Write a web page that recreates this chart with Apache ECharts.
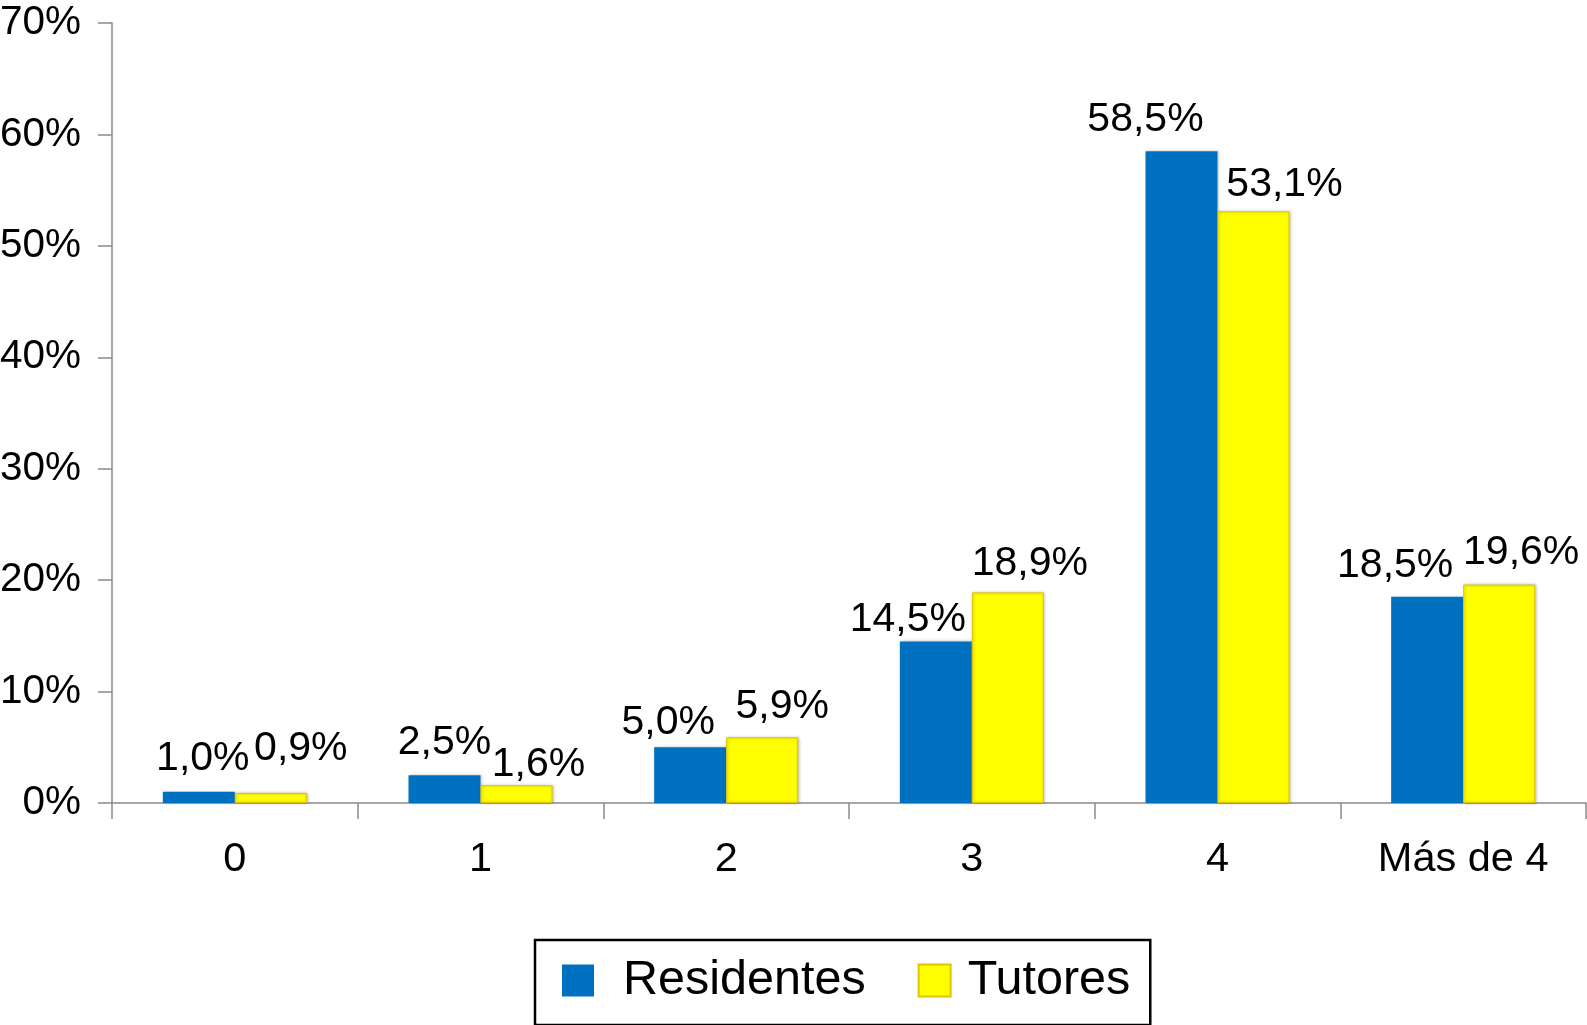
<!DOCTYPE html>
<html>
<head>
<meta charset="utf-8">
<script src="https://cdn.jsdelivr.net/npm/echarts@6/dist/echarts.min.js"></script>
<style>
html,body{margin:0;padding:0;background:#fff;}
#chart{width:1587px;height:1025px;}
</style>
</head>
<body>
<div id="chart"></div>
<script>
const categories = ['0', '1', '2', '3', '4', 'Más de 4'];
const residentes = [1.0, 2.5, 5.0, 14.5, 58.5, 18.5];
const tutores = [0.9, 1.6, 5.9, 18.9, 53.1, 19.6];
const yTicks = [0, 10, 20, 30, 40, 50, 60, 70];

// label nudges (style only)
const resOffsets = [[4, -2], [0, -1], [-22, 7], [-28, 10], [-36, 0], [-32, 0]];
const tutOffsets = [[30, -13], [22, 11], [20, 1], [22, 3], [31, 5], [22, 0]];

const FONT = '"Liberation Sans", Arial, Helvetica, sans-serif';
const fmt = v => v.toFixed(1).replace('.', ',') + '%';

function buildData(vals, offs) {
  return vals.map((v, i) => ({ value: v, label: { offset: offs[i] } }));
}

const chart = echarts.init(document.getElementById('chart'), null, { renderer: 'canvas' });
chart.setOption({
  animation: false,
  backgroundColor: '#ffffff',
  grid: { left: 112, right: 1, top: 23, bottom: 222, containLabel: false, outerBoundsMode: 'none' },
  legend: {
    left: 535,
    top: 940,
    orient: 'horizontal',
    padding: [16, 20, 20, 27],
    itemGap: 52,
    itemWidth: 32,
    itemHeight: 32,
    borderColor: '#000',
    borderWidth: 2.5,
    icon: 'rect',
    textStyle: { fontSize: 48.5, lineHeight: 32, color: '#000', fontFamily: FONT, padding: [0, 0, 0, 24] },
    data: [
      { name: 'Residentes' },
      { name: 'Tutores', textStyle: { padding: [0, 0, 0, 12] } }
    ]
  },
  xAxis: {
    type: 'category',
    data: categories,
    boundaryGap: true,
    axisLine: { lineStyle: { color: '#8a8a8a', width: 1.5 } },
    axisTick: { show: true, length: 16, lineStyle: { color: '#8a8a8a', width: 1.5 } },
    axisLabel: { fontSize: 41.5, color: '#000', fontFamily: FONT, margin: 36 }
  },
  yAxis: {
    type: 'value',
    min: yTicks[0],
    max: yTicks[yTicks.length - 1],
    interval: 10,
    splitLine: { show: false },
    axisLine: { show: true, lineStyle: { color: '#8a8a8a', width: 1.5 } },
    axisTick: { show: true, length: 14, lineStyle: { color: '#8a8a8a', width: 1.5 } },
    axisLabel: { fontSize: 40.5, color: '#000', fontFamily: FONT, margin: 31, formatter: '{value}%' }
  },
  series: [
    {
      name: 'Residentes',
      type: 'bar',
      barWidth: 72,
      barGap: '0%',
      data: buildData(residentes, resOffsets),
      itemStyle: { color: '#0070C0', shadowBlur: 3, shadowColor: 'rgba(0,0,0,0.25)', shadowOffsetX: 1 },
      label: {
        show: true, position: 'top', distance: 11,
        fontSize: 41, color: '#000', fontFamily: FONT,
        formatter: p => fmt(p.value)
      }
    },
    {
      name: 'Tutores',
      type: 'bar',
      barWidth: 72,
      barGap: '0%',
      data: buildData(tutores, tutOffsets),
      itemStyle: { color: '#FFFF00', borderColor: '#E2C400', borderWidth: 1, shadowBlur: 3, shadowColor: 'rgba(0,0,0,0.25)', shadowOffsetX: 1 },
      label: {
        show: true, position: 'top', distance: 11,
        fontSize: 41, color: '#000', fontFamily: FONT,
        formatter: p => fmt(p.value)
      }
    }
  ]
});
</script>
</body>
</html>
